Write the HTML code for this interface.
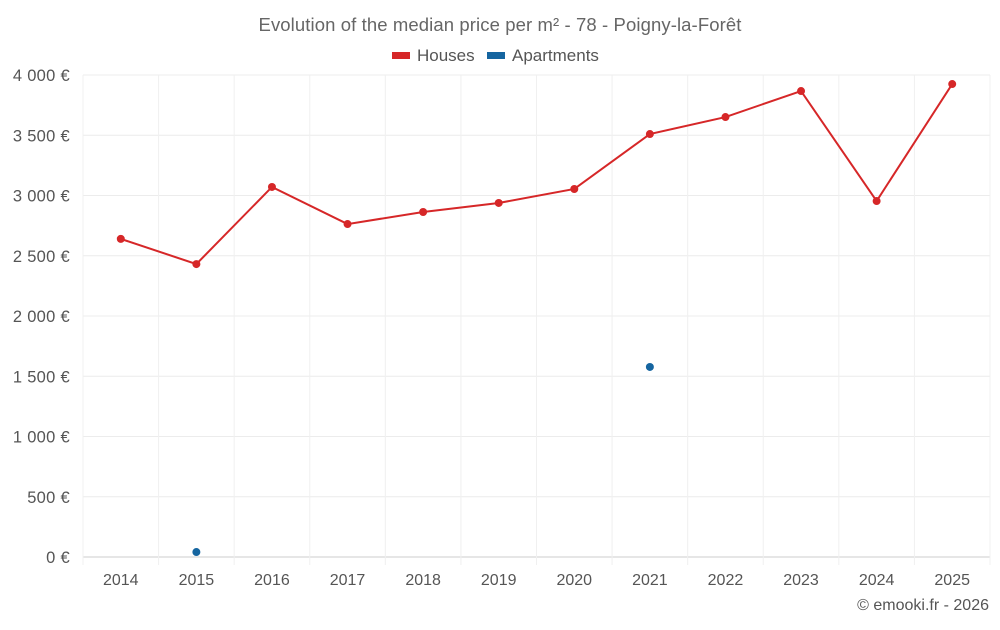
<!DOCTYPE html>
<html><head><meta charset="utf-8"><style>
body{margin:0;background:#fff;font-family:"Liberation Sans",sans-serif}
svg text{font-family:"Liberation Sans",sans-serif}
</style></head><body>
<svg id="chart" width="1000" height="625" xmlns="http://www.w3.org/2000/svg">
<text x="500" y="31" text-anchor="middle" font-size="18.5" letter-spacing="0.1" fill="#666">Evolution of the median price per m² - 78 - Poigny-la-Forêt</text>
<g><rect x="392" y="52" width="18" height="7" fill="#d62728"/><text x="417" y="61" font-size="17" fill="#555">Houses</text></g>
<g><rect x="487" y="52" width="18" height="7" fill="#1565a0"/><text x="512" y="61" font-size="17" fill="#555">Apartments</text></g>
<g id="grid"></g><g id="axes"></g><g id="marks"></g>
<text x="989" y="610" text-anchor="end" font-size="16" fill="#555">© emooki.fr - 2026</text>
</svg>
<script>
const years=["2014","2015","2016","2017","2018","2019","2020","2021","2022","2023","2024","2025"];
const houses=[2640,2431,3071,2763,2863,2938,3054,3510,3651,3867,2954,3925];
const apartments=[null,41,null,null,null,null,null,1577,null,null,null,null];
const yTicks=[0,500,1000,1500,2000,2500,3000,3500,4000];
const yLabels=["0 €","500 €","1 000 €","1 500 €","2 000 €","2 500 €","3 000 €","3 500 €","4 000 €"];
const L=83,R=990,T=75,B=557,ymax=4000;
const bw=(R-L)/years.length;
const x=i=>L+bw*(i+0.5);
const y=v=>B-(v/ymax)*(B-T);
const NS="http://www.w3.org/2000/svg";
function mk(p,t,a){const e=document.createElementNS(NS,t);for(const k in a)e.setAttribute(k,a[k]);p.appendChild(e);return e;}
const g=document.getElementById('grid'),ax=document.getElementById('axes'),m=document.getElementById('marks');
yTicks.forEach((v,i)=>{
 const l=mk(g,'line',{x1:L,x2:R,y1:y(v),y2:y(v),stroke:i==0?'#ccc':'#ececec'});
 
 
 const t=mk(ax,'text',{x:70,y:y(v)+6,'text-anchor':'end','font-size':16.5,'letter-spacing':0.3,fill:'#555'});t.textContent=yLabels[i];
 
 
});
for(let i=0;i<=years.length;i++){
 const xx=L+bw*i;
 const l=mk(g,'line',{x1:xx,x2:xx,y1:T,y2:B+8,stroke:'#f0f0f0'});
 
 
}
years.forEach((yr,i)=>{
 const t=mk(ax,'text',{x:x(i),y:585,'text-anchor':'middle','font-size':16,fill:'#555'});t.textContent=yr;
 
 
});
const pl=mk(m,'polyline',{points:houses.map((v,i)=>x(i)+','+y(v)).join(' '),fill:'none',stroke:'#d62728','stroke-width':2});


houses.forEach((v,i)=>{const c=mk(m,'circle',{cx:x(i),cy:y(v),r:4,fill:'#d62728'});
 
 });
apartments.forEach((v,i)=>{if(v==null)return;const c=mk(m,'circle',{cx:x(i),cy:y(v),r:4,fill:'#1565a0'});
 
 });
</script>
</body></html>
